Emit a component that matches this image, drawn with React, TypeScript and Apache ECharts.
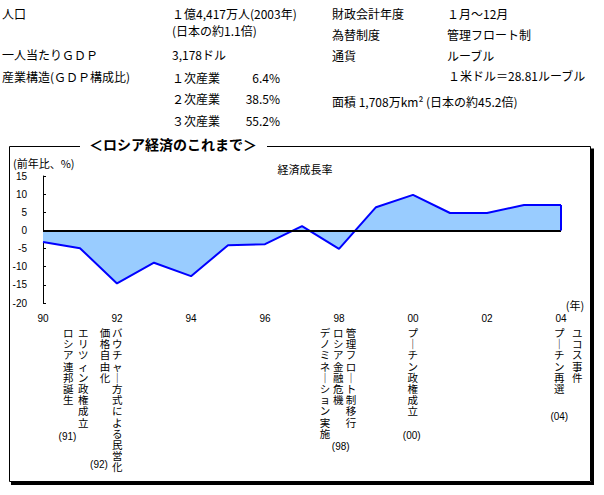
import React, { useEffect, useRef } from 'react';
import * as echarts from 'echarts';

// ---- data ----
const years = [1990, 1991, 1992, 1993, 1994, 1995, 1996, 1997, 1998, 1999, 2000, 2001, 2002, 2003, 2004];
const growth = [-3.2, -4.9, -14.6, -8.9, -12.6, -4.1, -3.8, 1.2, -5.1, 6.4, 9.8, 4.8, 4.8, 7.0, 7.0];
const yMin = -20;
const yMax = 15;
const yStep = 5;
const xStep = 2;

const chartTitle = '＜ロシア経済のこれまで＞';
const seriesName = '経済成長率';
const yUnit = '(前年比、%)';
const xUnit = '(年)';

const infoLeftLabels = ['人口', '一人当たりＧＤＰ', '産業構造(ＧＤＰ構成比)'];
const populationTexts = ['１億4,417万人(2003年)', '(日本の約1.1倍)'];
const gdpPerCapita = '3,178ドル';
const industries = ['１次産業', '２次産業', '３次産業'];
const industryShares = ['6.4%', '38.5%', '55.2%'];
const infoRightLabels = ['財政会計年度', '為替制度', '通貨'];
const infoRightValues = ['１月～12月', '管理フロート制', 'ルーブル'];
const exchangeRate = '１米ドル＝28.81ルーブル';
const areaText = '面積 1,708万km² (日本の約45.2倍)';

const eventTexts = [
  'ロシア連邦誕生',
  'エリツィン政権成立',
  '価格自由化',
  'バウチャー方式による民営化',
  'デノミネーション実施',
  'ロシア金融危機',
  '管理フロート制移行',
  'プーチン政権成立',
  'プーチン再選',
  'ユコス事件',
];
const eventYearTags = ['(91)', '(92)', '(98)', '(00)', '(04)'];

// ---- layout (positions only) ----
const JP = '"Noto Sans CJK JP", sans-serif';
const NUM = '"Liberation Sans", Arial, sans-serif';
const eventX = [68.3, 83.3, 105, 117.3, 325, 338.3, 351, 412.7, 559.3, 577.3];
const tagPos = [
  [67.5, 436.7],
  [99, 464.3],
  [340.7, 446.7],
  [411.7, 435],
  [559.3, 416],
];
const charPitch = 11.2;
const firstCharY = 332.5;

function txt(text: string, x: number, y: number, opts: any = {}) {
  return {
    type: 'text',
    x,
    y,
    z: opts.z ?? 5,
    style: {
      text,
      fill: '#000',
      fontSize: opts.fontSize ?? 12,
      fontFamily: opts.fontFamily ?? JP,
      fontWeight: opts.fontWeight ?? 'normal',
      align: opts.align ?? 'left',
      verticalAlign: opts.verticalAlign ?? 'middle',
      lineHeight: opts.lineHeight,
    },
  };
}

export default function App() {
  const ref = useRef<HTMLDivElement>(null);

  useEffect(() => {
    if (!ref.current) return;
    const chart = echarts.init(ref.current, undefined, { renderer: 'svg' });

    const graphics: any[] = [];
    // frame with shadow
    graphics.push({
      type: 'rect',
      z: 1,
      shape: { x: 9.5, y: 146.5, width: 581, height: 335 },
      style: { fill: 'none', stroke: '#000', lineWidth: 1 },
    });
    graphics.push({ type: 'rect', z: 1, shape: { x: 591, y: 148.5, width: 3, height: 336 }, style: { fill: '#000' } });
    graphics.push({ type: 'rect', z: 1, shape: { x: 11, y: 482, width: 583, height: 3 }, style: { fill: '#000' } });
    // title with white background
    graphics.push({ type: 'rect', z: 8, shape: { x: 80, y: 136, width: 187, height: 16 }, style: { fill: '#fff' } });
    graphics.push(txt(chartTitle, 173, 143.5, { fontSize: 14, fontWeight: 'bold', align: 'center', z: 9 }));

    // top info block
    const leftRowsY = [13, 54.5, 76.5];
    infoLeftLabels.forEach((t, i) => graphics.push(txt(t, 2, leftRowsY[i])));
    graphics.push(txt(populationTexts[0], 172, 13));
    graphics.push(txt(populationTexts[1], 172, 30.5));
    graphics.push(txt(gdpPerCapita, 172, 54.5));
    const indY = [77, 98.5, 120];
    industries.forEach((t, i) => {
      graphics.push(txt(t, 172, indY[i]));
      graphics.push(txt(industryShares[i], 280, indY[i], { align: 'right' }));
    });
    const rightY = [13, 34.3, 55];
    infoRightLabels.forEach((t, i) => {
      graphics.push(txt(t, 332, rightY[i]));
      graphics.push(txt(infoRightValues[i], 447, rightY[i]));
    });
    graphics.push(txt(exchangeRate, 448, 75));
    graphics.push(txt(areaText, 332, 101.7));

    // chart annotations
    graphics.push(txt(yUnit, 13, 162.7, { fontSize: 11 }));
    graphics.push(txt(seriesName, 305, 169, { fontSize: 11, align: 'center' }));
    graphics.push(txt(xUnit, 575, 305, { fontSize: 11, align: 'center' }));

    // vertical (縦書き) event labels, one glyph per element
    eventTexts.forEach((t, i) => {
      t.split('').forEach((c, k) => {
        const ch = c === 'ー' ? '｜' : c;
        graphics.push(
          txt(ch, eventX[i], firstCharY + k * charPitch, {
            fontSize: 10.5,
            lineHeight: 11,
            align: 'center',
            verticalAlign: 'middle',
          })
        );
      });
    });
    eventYearTags.forEach((t, i) => {
      graphics.push(txt(t, tagPos[i][0], tagPos[i][1], { fontSize: 10, fontFamily: NUM, align: 'center' }));
    });

    const lastYear = years[years.length - 1];
    const lastVal = growth[growth.length - 1];

    chart.setOption({
      animation: false,
      backgroundColor: '#fff',
      grid: { left: 43, right: 43, top: 176, bottom: 192, containLabel: false },
      xAxis: {
        type: 'value',
        min: years[0],
        max: lastYear,
        interval: xStep,
        axisLine: { show: false, onZero: false },
        axisTick: { show: false },
        splitLine: { show: false },
        axisLabel: {
          color: '#000',
          fontSize: 10,
          fontFamily: NUM,
          margin: 10,
          formatter: (v: number) => String(v % 100).padStart(2, '0'),
        },
      },
      yAxis: {
        type: 'value',
        min: yMin,
        max: yMax,
        interval: yStep,
        axisLine: { show: true, lineStyle: { color: '#000', width: 1 } },
        axisTick: { show: true, inside: true, length: 3, lineStyle: { color: '#000' } },
        splitLine: { show: false },
        axisLabel: { color: '#000', fontSize: 10, fontFamily: NUM, margin: 16 },
      },
      series: [
        {
          type: 'line',
          name: seriesName,
          data: years.map((y, i) => [y, growth[i]]),
          symbol: 'none',
          lineStyle: { color: '#0000ff', width: 2 },
          areaStyle: { color: '#99ccff', opacity: 1 },
          silent: true,
          markLine: {
            silent: true,
            symbol: ['none', 'none'],
            label: { show: false },
            data: [
              [
                { coord: [years[0], 0], lineStyle: { color: '#000', width: 2, type: 'solid' } },
                { coord: [lastYear, 0] },
              ],
              [
                { coord: [lastYear, lastVal], lineStyle: { color: '#0000ff', width: 2, type: 'solid' } },
                { coord: [lastYear, 0] },
              ],
            ],
          },
        },
      ],
      graphic: graphics,
    });

    return () => chart.dispose();
  }, []);

  return (
    <div
      ref={ref}
      style={{ position: 'fixed', left: 0, top: 0, width: 604, height: 495, background: '#fff' }}
    />
  );
}
